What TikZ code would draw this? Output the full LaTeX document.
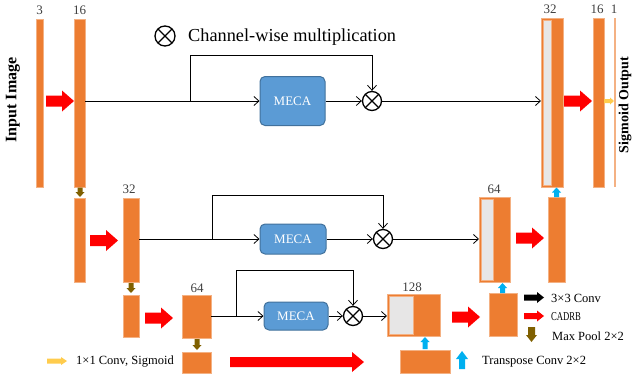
\documentclass[tikz,border=0pt]{standalone}
\usepackage{fontspec}
\setmainfont{Liberation Serif}
\usepackage{graphicx}
\usetikzlibrary{arrows.meta,calc}
\definecolor{orng}{HTML}{ED7D31}
\definecolor{orngL}{HTML}{F4B183}
\definecolor{lgray}{HTML}{E7E6E6}
\definecolor{mecaF}{HTML}{5B9BD5}
\definecolor{mecaD}{HTML}{41719C}
\definecolor{redA}{HTML}{FF0000}
\definecolor{brownA}{HTML}{7F6000}
\definecolor{blueA}{HTML}{00B0F0}
\definecolor{yellowA}{HTML}{FFCC4D}
\definecolor{numc}{HTML}{404040}
% horizontal fat arrow (left to right): start, end, colour, body half, head half, head length
\newcommand\hfat[6]{\fill[#3] let \p1=(#1), \p2=(#2) in
  (\x1,\y1+#4) -- (\x2-#6,\y1+#4) -- (\x2-#6,\y1+#5) -- (\x2,\y1) -- (\x2-#6,\y1-#5) -- (\x2-#6,\y1-#4) -- (\x1,\y1-#4) -- cycle;}
% downward fat arrow
\newcommand\dfat[6]{\fill[#3] let \p1=(#1), \p2=(#2) in
  (\x1-#4,\y1) -- (\x1-#4,\y2+#6) -- (\x1-#5,\y2+#6) -- (\x1,\y2) -- (\x1+#5,\y2+#6) -- (\x1+#4,\y2+#6) -- (\x1+#4,\y1) -- cycle;}
% upward fat arrow
\newcommand\ufat[6]{\fill[#3] let \p1=(#1), \p2=(#2) in
  (\x1-#4,\y1) -- (\x1-#4,\y2-#6) -- (\x1-#5,\y2-#6) -- (\x1,\y2) -- (\x1+#5,\y2-#6) -- (\x1+#4,\y2-#6) -- (\x1+#4,\y1) -- cycle;}
\begin{document}
\begin{tikzpicture}[x=1pt,y=-1pt,
  obar/.style={rectangle, fill=orng, draw=orngL, line width=0.6pt, inner sep=0pt, outer sep=0pt},
  thinbar/.style={rectangle, fill=orngL, inner sep=0pt, outer sep=0pt},
  meca/.style={rectangle, rounded corners=5pt, fill=mecaF, draw=mecaD, line width=1pt, text=white, inner sep=0pt, font=\fontsize{13}{15}\selectfont},
  ox/.style={circle, draw, line width=1.3pt, minimum size=19pt, inner sep=0pt,
    path picture={\draw[line width=1.3pt] (path picture bounding box.north west) -- (path picture bounding box.south east)
      (path picture bounding box.north east) -- (path picture bounding box.south west);}},
  conn/.style={draw, line width=0.8pt, -{Straight Barb[length=5pt,width=9pt]}},
  numlbl/.style={text=numc, font=\fontsize{13}{15}\selectfont, inner sep=0pt},
  legtxt/.style={anchor=west, inner sep=0pt, font=\fontsize{12.5}{14}\selectfont},
  grayin/.style={fill=lgray, draw=orngL, line width=0.6pt}
]
\useasboundingbox (0,0) rectangle (632,375);

% ---------- top row ----------
\node[obar, minimum width=7, minimum height=168] (b3) at (39.5,103) {};
\node[obar, minimum width=11, minimum height=168] (b16) at (79.5,103) {};
\node[meca, minimum width=65, minimum height=49] (meca1) at (292.5,101) {MECA};
\node[ox] (ot1) at (372,101) {};
\node[obar, minimum width=22, minimum height=169] (c32) at (552,102.5) {};
\fill[grayin] ([shift={(2,2)}]c32.north west) rectangle ([shift={(10,-2)}]c32.south west);
\node[obar, minimum width=11, minimum height=169] (b16r) at (598.5,102.5) {};
\node[thinbar, minimum width=1.6, minimum height=169] (b1) at (615,102.5) {};

% ---------- middle row ----------
\node[obar, minimum width=11, minimum height=84] (m1) at (79.5,240) {};
\node[obar, minimum width=16, minimum height=84] (m32) at (131,240) {};
\node[meca, minimum width=66, minimum height=30] (meca2) at (293,239) {MECA};
\node[ox] (ot2) at (383,239) {};
\node[obar, minimum width=31, minimum height=85] (c64) at (494.5,239.5) {};
\fill[grayin] ([shift={(2,2)}]c64.north west) rectangle ([shift={(14,-2)}]c64.south west);
\node[obar, minimum width=17, minimum height=85] (m64r) at (556.5,239.5) {};

% ---------- bottom row ----------
\node[obar, minimum width=16, minimum height=42] (l1) at (131,316) {};
\node[obar, minimum width=29, minimum height=43] (l64) at (196.5,316.5) {};
\node[meca, minimum width=64, minimum height=28] (meca3) at (296,316) {MECA};
\node[ox] (ot3) at (353,316) {};
\node[obar, minimum width=53, minimum height=42] (c128) at (413.5,315) {};
\fill[grayin] ([shift={(2,2)}]c128.north west) rectangle ([shift={(26,-2)}]c128.south west);
\node[obar, minimum width=28, minimum height=43] (l128r) at (503,314.5) {};
\node[obar, minimum width=29, minimum height=21] (bb1) at (196.5,362.5) {};
\node[obar, minimum width=50, minimum height=23] (bb2) at (425,361.5) {};

% ---------- channel labels ----------
\node[numlbl] (n3) at (39.5,10) {3};
\node[numlbl] (n16) at (79.5,10) {16};
\node[numlbl] (n32t) at (550,9.5) {32};
\node[numlbl] (n16r) at (597,9.5) {16};
\node[numlbl] (n1) at (614,9.5) {1};
\node[numlbl] (n32m) at (129,189) {32};
\node[numlbl] (n64m) at (494,189) {64};
\node[numlbl] (n64b) at (197,288) {64};
\node[numlbl] (n128) at (412,287) {128};

% ---------- thin connectors ----------
\coordinate (s1) at (190,101); \coordinate (s1t) at (190,55);
\draw[conn] (b16.east |- ot1) -- (meca1.west |- ot1);
\draw[conn] (s1) -- (s1t) -| (ot1.north);
\draw[conn] (meca1) -- (ot1);
\draw[conn] (ot1) -- (c32.west |- ot1);

\coordinate (s2) at (212,239); \coordinate (s2t) at (212,195);
\draw[conn] (m32.east |- ot2) -- (meca2.west |- ot2);
\draw[conn] (s2) -- (s2t) -| (ot2.north);
\draw[conn] (meca2) -- (ot2);
\draw[conn] (ot2) -- (c64.west |- ot2);

\coordinate (s3) at (236,316); \coordinate (s3t) at (236,270);
\draw[conn] (l64.east |- ot3) -- (meca3.west |- ot3);
\draw[conn] (s3) -- (s3t) -| (ot3.north);
\draw[conn] (meca3) -- (ot3);
\draw[conn] (ot3) -- (c128.west |- ot3);

% ---------- red CADRB arrows ----------
\coordinate (ra1) at (46,101);    \coordinate (rb1) at (74,101);
\coordinate (ra2) at (564,101);   \coordinate (rb2) at (592,101);
\coordinate (ra3) at (90,240.5);  \coordinate (rb3) at (118,240.5);
\coordinate (ra4) at (516,238);   \coordinate (rb4) at (544,238);
\coordinate (ra5) at (145,318);   \coordinate (rb5) at (173,318);
\coordinate (ra6) at (452,317);   \coordinate (rb6) at (480,317);
\coordinate (ra7) at (230,362);   \coordinate (rb7) at (364,362);
\hfat{ra1}{rb1}{redA}{5.5pt}{10.5pt}{12pt}
\hfat{ra2}{rb2}{redA}{5.5pt}{10.5pt}{12pt}
\hfat{ra3}{rb3}{redA}{5.5pt}{10.5pt}{12pt}
\hfat{ra4}{rb4}{redA}{5.5pt}{10.5pt}{12pt}
\hfat{ra5}{rb5}{redA}{5.5pt}{10.5pt}{12pt}
\hfat{ra6}{rb6}{redA}{5.5pt}{10.5pt}{12pt}
\hfat{ra7}{rb7}{redA}{5pt}{10pt}{12pt}

% ---------- brown max-pool arrows ----------
\coordinate (da1) at (80,187.5);  \coordinate (db1) at (80,197);
\coordinate (da2) at (131,283);   \coordinate (db2) at (131,293);
\coordinate (da3) at (197,339);   \coordinate (db3) at (197,350);
\dfat{da1}{db1}{brownA}{2.5pt}{4.5pt}{5pt}
\dfat{da2}{db2}{brownA}{2.5pt}{4.5pt}{5pt}
\dfat{da3}{db3}{brownA}{2.5pt}{4.5pt}{5pt}

% ---------- blue transpose-conv arrows ----------
\coordinate (ua1) at (556.5,197); \coordinate (ub1) at (556.5,187.5);
\coordinate (ua2) at (502.5,293); \coordinate (ub2) at (502.5,283);
\coordinate (ua3) at (425,349);   \coordinate (ub3) at (425,337);
\ufat{ua1}{ub1}{blueA}{2.5pt}{4.5pt}{5pt}
\ufat{ua2}{ub2}{blueA}{2.5pt}{4.5pt}{5pt}
\ufat{ua3}{ub3}{blueA}{2.5pt}{4.5pt}{5pt}

% ---------- yellow output arrow ----------
\coordinate (ya1) at (604,101);   \coordinate (yb1) at (614,101);
\hfat{ya1}{yb1}{yellowA}{2pt}{3.5pt}{4pt}

% ---------- titles ----------
\node[rotate=90, inner sep=0pt, font=\bfseries\fontsize{16}{18}\selectfont] (tin) at (13,100) {Input Image};
\node[rotate=90, inner sep=0pt, font=\bfseries\fontsize{14}{16}\selectfont] (tout) at (625,105) {Sigmoid Output};
\node[ox, minimum size=20pt] (oxleg) at (165,36) {};
\node[anchor=west, inner sep=0pt, font=\fontsize{18.3}{21}\selectfont] (tcw) at (188,37) {Channel-wise multiplication};

% ---------- legend ----------
\coordinate (ka) at (524,297.5);  \coordinate (kb) at (544,297.5);
\hfat{ka}{kb}{black}{3pt}{5.5pt}{7pt}
\node[legtxt] (lg1) at (551,298) {3×3 Conv};
\coordinate (ra8) at (524,316);   \coordinate (rb8) at (544,316);
\hfat{ra8}{rb8}{redA}{3pt}{5.5pt}{7pt}
\node[legtxt] (lg2) at (551,317) {\scalebox{0.72}[1]{\fontsize{12}{14}\selectfont CADRB}};
\coordinate (da4) at (531.5,327); \coordinate (db4) at (531.5,342);
\dfat{da4}{db4}{brownA}{3.5pt}{5.5pt}{7pt}
\node[legtxt] (lg3) at (552,336) {Max Pool 2×2};
\coordinate (ua4) at (462,369);   \coordinate (ub4) at (462,351);
\ufat{ua4}{ub4}{blueA}{3pt}{6pt}{8pt}
\node[legtxt] (lg4) at (482,362) {Transpose Conv 2×2};
\coordinate (ya2) at (47,361);    \coordinate (yb2) at (67,361);
\hfat{ya2}{yb2}{yellowA}{2.5pt}{4pt}{6pt}
\node[legtxt] (lg5) at (76,362) {1×1 Conv, Sigmoid};
\end{tikzpicture}
\end{document}
